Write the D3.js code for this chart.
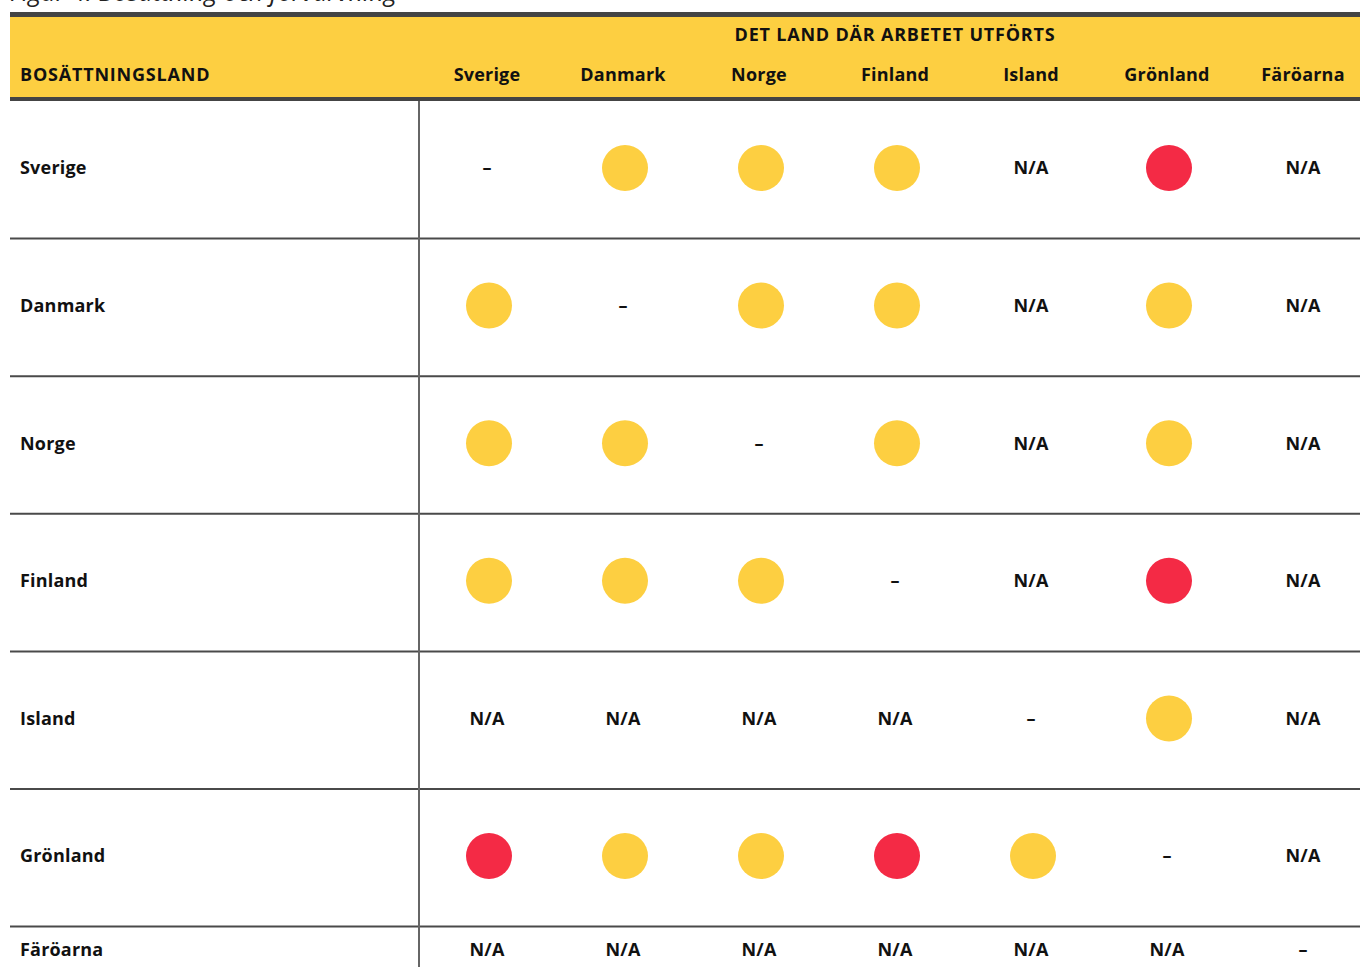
<!DOCTYPE html>
<html>
<head>
<meta charset="utf-8">
<script src="https://cdn.jsdelivr.net/npm/d3@7"></script>
<style>
  body { margin: 0; background: #fff; }
  svg { display: block; font-family: "Open Sans", Lato, sans-serif; }
  .lbl { font-size: 18px; font-weight: bold; fill: #111; letter-spacing: 0.2px; }
  .caps { letter-spacing: 0.8px; }
</style>
</head>
<body>
<div id="chart"></div>
<script>
// residence countries (rows) and work countries (columns)
var rowCountries = ["Sverige", "Danmark", "Norge", "Finland", "Island", "Grönland", "Färöarna"];
var colCountries = ["Sverige", "Danmark", "Norge", "Finland", "Island", "Grönland", "Färöarna"];

// Y = yellow dot, R = red dot, NA = not applicable, "-" = same country
var sverigeRow  = ["-", "Y", "Y", "Y", "NA", "R", "NA"];
var danmarkRow  = ["Y", "-", "Y", "Y", "NA", "Y", "NA"];
var norgeRow    = ["Y", "Y", "-", "Y", "NA", "Y", "NA"];
var finlandRow  = ["Y", "Y", "Y", "-", "NA", "R", "NA"];
var islandRow   = ["NA", "NA", "NA", "NA", "-", "Y", "NA"];
var gronlandRow = ["R", "Y", "Y", "R", "Y", "-", "NA"];
var faroarnaRow = ["NA", "NA", "NA", "NA", "NA", "NA", "-"];

var matrix = [sverigeRow, danmarkRow, norgeRow, finlandRow, islandRow, gronlandRow, faroarnaRow];

var titleText = "Figur 4. Bosättning och förvärvning";
var rowHeader = "BOSÄTTNINGSLAND";
var colHeader = "DET LAND DÄR ARBETET UTFÖRTS";

var width = 1360, height = 967;
var yellow = "#fdcf41", red = "#f42a45", dark = "#444";

var svg = d3.select("#chart").append("svg")
    .attr("width", width)
    .attr("height", height);

// columns
var x = d3.scaleBand()
    .domain(colCountries)
    .range([419, 1371]);

// rows: six full rows, the last one is cut by the page
var bodyTop = 101, rowH = 137.6;
var y = d3.scaleBand()
    .domain(rowCountries.slice(0, 6))
    .range([bodyTop, bodyTop + 6 * rowH]);
function rowMid(name) {
    if (name === "Färöarna") return bodyTop + 6 * rowH + 23;
    return y(name) + 67;
}

// title (mostly above the page edge)
svg.append("text")
    .attr("x", 10)
    .attr("y", 1)
    .style("font-size", "25px")
    .style("font-style", "italic")
    .style("fill", "#222")
    .text(titleText);

// header band
svg.append("rect")
    .attr("x", 10).attr("y", 12)
    .attr("width", width - 10).attr("height", 89)
    .attr("fill", dark);
svg.append("rect")
    .attr("x", 10).attr("y", 17)
    .attr("width", width - 10).attr("height", 80)
    .attr("fill", yellow);

svg.append("text")
    .attr("class", "lbl caps")
    .attr("x", x("Finland") + x.bandwidth() / 2)
    .attr("y", 41)
    .attr("text-anchor", "middle")
    .text(colHeader);

svg.append("text")
    .attr("class", "lbl caps")
    .attr("x", 20)
    .attr("y", 81)
    .text(rowHeader);

svg.append("g").selectAll("text")
    .data(colCountries)
    .enter().append("text")
    .attr("class", "lbl")
    .attr("x", function (d) { return x(d) + x.bandwidth() / 2; })
    .attr("y", 81)
    .attr("text-anchor", "middle")
    .text(function (d) { return d; });

// grid lines
svg.append("g").selectAll("line")
    .data(rowCountries.slice(1))
    .enter().append("line")
    .attr("x1", 10).attr("x2", width)
    .attr("y1", function (d, i) { return bodyTop + (i + 1) * rowH; })
    .attr("y2", function (d, i) { return bodyTop + (i + 1) * rowH; })
    .attr("stroke", "#4a4a4a")
    .attr("stroke-width", 2);

svg.append("line")
    .attr("x1", 419).attr("x2", 419)
    .attr("y1", bodyTop).attr("y2", height)
    .attr("stroke", "#666")
    .attr("stroke-width", 2);

// row labels
svg.append("g").selectAll("text")
    .data(rowCountries)
    .enter().append("text")
    .attr("class", "lbl")
    .attr("x", 20)
    .attr("y", function (d) { return rowMid(d); })
    .attr("dy", "0.35em")
    .text(function (d) { return d; });

// cells
var cells = [];
matrix.forEach(function (row, i) {
    row.forEach(function (v, j) {
        cells.push({ row: rowCountries[i], col: colCountries[j], value: v });
    });
});

var cell = svg.append("g").selectAll("g")
    .data(cells)
    .enter().append("g")
    .attr("transform", function (d) {
        return "translate(" + (x(d.col) + x.bandwidth() / 2) + "," + rowMid(d.row) + ")";
    });

cell.filter(function (d) { return d.value === "Y" || d.value === "R"; })
    .append("circle")
    .attr("cx", 2)
    .attr("r", 23)
    .attr("fill", function (d) { return d.value === "R" ? red : yellow; });

cell.filter(function (d) { return d.value === "NA" || d.value === "-"; })
    .append("text")
    .attr("class", "lbl")
    .attr("text-anchor", "middle")
    .attr("dy", "0.35em")
    .text(function (d) { return d.value === "NA" ? "N/A" : "–"; });
</script>
</body>
</html>
